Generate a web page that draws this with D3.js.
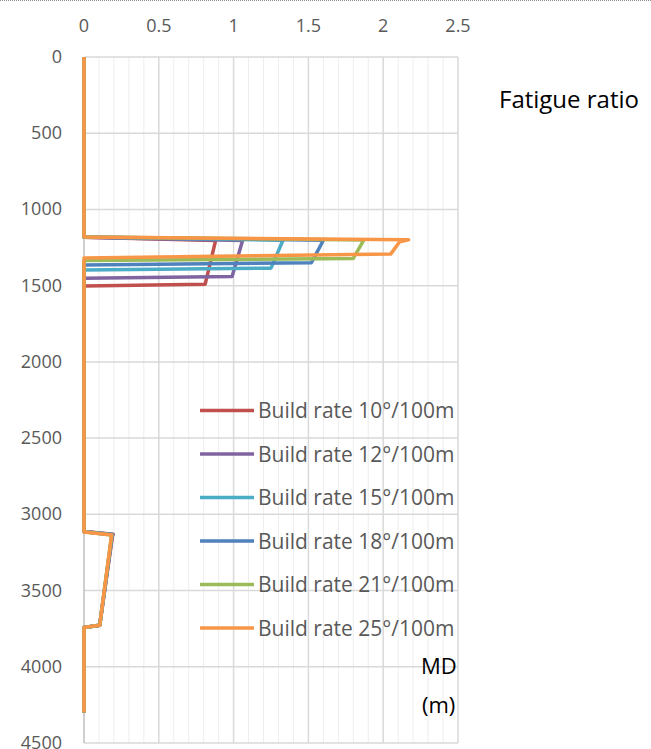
<!DOCTYPE html>
<html>
<head>
<meta charset="utf-8">
<script src="https://cdn.jsdelivr.net/npm/d3@7"></script>
<style>
  body { margin: 0; background: #fff; }
  text { font-family: "Open Sans", sans-serif; }
</style>
</head>
<body>
<div class="chart"></div>
<script>
// each point is [fatigue ratio, MD (m)]
const rate10 = [[0, 0], [0, 1182], [0.88, 1203], [0.81, 1490], [0, 1503], [0, 3112], [0.195, 3130], [0.19, 3145], [0.105, 3727], [0, 3742], [0, 4300]];
const rate12 = [[0, 0], [0, 1182], [1.06, 1203], [0.99, 1440], [0, 1452], [0, 3113], [0.193, 3132], [0.188, 3145], [0.105, 3727], [0, 3742], [0, 4300]];
const rate15 = [[0, 0], [0, 1181], [1.33, 1202], [1.25, 1385], [0, 1397], [0, 3114], [0.19, 3133], [0.186, 3145], [0.105, 3727], [0, 3742], [0, 4300]];
const rate18 = [[0, 0], [0, 1181], [1.60, 1202], [1.52, 1350], [0, 1364], [0, 3115], [0.188, 3134], [0.185, 3145], [0.105, 3727], [0, 3742], [0, 4300]];
const rate21 = [[0, 0], [0, 1180], [1.87, 1201], [1.80, 1321], [0, 1335], [0, 3115], [0.186, 3135], [0.184, 3145], [0.105, 3727], [0, 3742], [0, 4300]];
const rate25 = [[0, 0], [0, 1180], [2.17, 1199], [2.11, 1212], [2.05, 1293], [0, 1318], [0, 3116], [0.185, 3136], [0.183, 3146], [0.105, 3727], [0, 3742], [0, 4300]];

const seriesNames = ["Build rate 10°/100m", "Build rate 12°/100m", "Build rate 15°/100m",
                     "Build rate 18°/100m", "Build rate 21°/100m", "Build rate 25°/100m"];
const seriesData = [rate10, rate12, rate15, rate18, rate21, rate25];
const colors = ["#C0504D", "#8064A2", "#4BACC6", "#4F81BD", "#9BBB59", "#F79646"];

const xTicks = [0, 0.5, 1, 1.5, 2, 2.5];
const yTicks = [0, 500, 1000, 1500, 2000, 2500, 3000, 3500, 4000, 4500];

const width = 651, height = 749;

const svg = d3.select('.chart').append('svg')
    .attr('width', width)
    .attr('height', height);

// dotted border at the very top
svg.append('line')
    .attr('x1', 0).attr('x2', width)
    .attr('y1', 0.5).attr('y2', 0.5)
    .attr('stroke', '#8c8c8c')
    .attr('stroke-dasharray', '1,1');

//Scales
const xScale = d3.scaleLinear().domain([0, 2.5]).range([84, 458]);
const yScale = d3.scaleLinear().domain([0, 4500]).range([57, 743]);

// minor vertical gridlines every 0.1
svg.append('g')
    .selectAll('line')
    .data(d3.range(1, 25).map(d => d / 10).filter(d => Math.round(d * 10) % 5 != 0))
    .enter()
    .append('line')
    .attr('x1', d => xScale(d)).attr('x2', d => xScale(d))
    .attr('y1', yScale(0)).attr('y2', yScale(4500))
    .attr('stroke', '#ededed')
    .attr('stroke-width', 1);

// major gridlines
svg.append('g')
    .selectAll('line')
    .data(xTicks.slice(1))
    .enter()
    .append('line')
    .attr('x1', d => xScale(d)).attr('x2', d => xScale(d))
    .attr('y1', yScale(0)).attr('y2', yScale(4500))
    .attr('stroke', '#d9d9d9')
    .attr('stroke-width', 1.5);

svg.append('g')
    .selectAll('line')
    .data(yTicks)
    .enter()
    .append('line')
    .attr('x1', xScale(0)).attr('x2', xScale(2.5))
    .attr('y1', d => yScale(d)).attr('y2', d => yScale(d))
    .attr('stroke', '#d9d9d9')
    .attr('stroke-width', 1.5);

// left axis line
svg.append('line')
    .attr('x1', xScale(0)).attr('x2', xScale(0))
    .attr('y1', yScale(0)).attr('y2', yScale(4500))
    .attr('stroke', '#bfbfbf')
    .attr('stroke-width', 1.5);

// tick labels
svg.append('g')
    .selectAll('text')
    .data(xTicks)
    .enter()
    .append('text')
    .attr('x', d => xScale(d))
    .attr('y', 32)
    .attr('text-anchor', 'middle')
    .attr('font-size', 18)
    .attr('fill', '#595959')
    .text(d => d);

svg.append('g')
    .selectAll('text')
    .data(yTicks)
    .enter()
    .append('text')
    .attr('x', 62)
    .attr('y', d => yScale(d) + 6)
    .attr('text-anchor', 'end')
    .attr('font-size', 18)
    .attr('fill', '#595959')
    .text(d => d);

// the lines
const line = d3.line()
    .x(d => xScale(d[0]))
    .y(d => yScale(d[1]));

svg.append('g')
    .selectAll('path')
    .data(seriesData)
    .enter()
    .append('path')
    .attr('d', line)
    .attr('fill', 'none')
    .attr('stroke', (d, i) => colors[i])
    .attr('stroke-width', 3.5)
    .attr('stroke-linejoin', 'round');

// axis titles
svg.append('text')
    .attr('x', 499)
    .attr('y', 108)
    .attr('font-size', 24)
    .attr('fill', '#000')
    .text('Fatigue ratio');

svg.append('text')
    .attr('x', 421)
    .attr('y', 674)
    .attr('font-size', 22)
    .attr('fill', '#000')
    .text('MD');

svg.append('text')
    .attr('x', 422)
    .attr('y', 713)
    .attr('font-size', 22)
    .attr('fill', '#000')
    .text('(m)');

//legend
const legend = svg.selectAll('.legend')
    .data(seriesNames)
    .enter()
    .append('g')
    .attr('class', 'legend')
    .attr('transform', (d, i) => 'translate(200,' + (410.5 + i * 43.5) + ')');

legend.append('line')
    .attr('x1', 0).attr('x2', 54)
    .attr('stroke', (d, i) => colors[i])
    .attr('stroke-width', 3.5);

legend.append('text')
    .attr('x', 58)
    .attr('y', 7.5)
    .attr('font-size', 21)
    .attr('fill', '#595959')
    .text(d => d);
</script>
</body>
</html>
